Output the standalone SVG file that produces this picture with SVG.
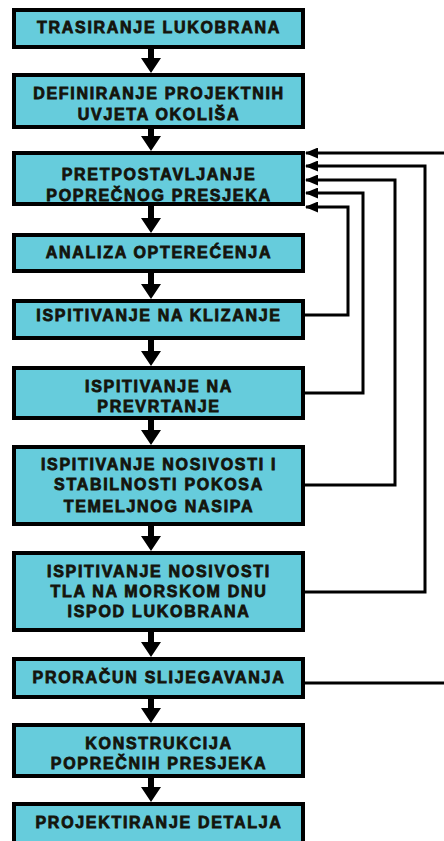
<svg xmlns="http://www.w3.org/2000/svg" width="444" height="841" viewBox="0 0 444 841">
<style>
.box{fill:#66CCDC;stroke:#000;stroke-width:4}
.t{font-family:"Liberation Sans",Arial,sans-serif;font-weight:bold;font-size:16px;letter-spacing:1.7px;fill:#14140c;stroke:#14140c;stroke-width:0.8;text-anchor:middle}
.sh{stroke:#000;stroke-width:6;fill:none}
.hd{fill:#000}
.fb{stroke:#000;stroke-width:3;fill:none;stroke-linejoin:miter}
</style>
<defs>
<marker id="ah" markerUnits="userSpaceOnUse" markerWidth="13" markerHeight="11" refX="12" refY="5.5" orient="auto">
<path d="M0,0 L13,5.5 L0,11 Z" fill="#000"/>
</marker>
</defs>
<rect width="444" height="841" fill="#fff"/>
<g id="connectors">
<path class="sh" d="M151,49V60M151,129V138M151,206V220M151,273V286M151,340V353M151,420V432M151,526V538M151,632V644M151,699V710M151,778V789"/>
<path class="hd" d="M141,58H161L151,73ZM141,136H161L151,151ZM141,218H161L151,233ZM141,284H161L151,299ZM141,351H161L151,366ZM141,430H161L151,445ZM141,536H161L151,551ZM141,642H161L151,657ZM141,708H161L151,723ZM141,787H161L151,802Z"/>
<path class="fb" d="M305,315H348V207H306" marker-end="url(#ah)"/>
<path class="fb" d="M305,393H363V193H306" marker-end="url(#ah)"/>
<path class="fb" d="M305,485H395V180H306" marker-end="url(#ah)"/>
<path class="fb" d="M305,592H425V166H306" marker-end="url(#ah)"/>
<path class="fb" d="M305,683H444"/>
<path class="fb" d="M444,153H306" marker-end="url(#ah)"/>
</g>
<g id="n1"><rect class="box" x="14" y="10" width="289" height="37"/><text class="t" x="159" y="33">TRASIRANJE LUKOBRANA</text></g>
<g id="n2"><rect class="box" x="14" y="75" width="289" height="52"/><text class="t" x="159" y="99">DEFINIRANJE PROJEKTNIH</text><text class="t" x="159" y="120">UVJETA OKOLIŠA</text></g>
<g id="n3"><rect class="box" x="14" y="153" width="289" height="51"/><text class="t" x="159" y="180">PRETPOSTAVLJANJE</text><text class="t" x="159" y="201">POPREČNOG PRESJEKA</text></g>
<g id="n4"><rect class="box" x="14" y="235" width="289" height="36"/><text class="t" x="159" y="258">ANALIZA OPTEREĆENJA</text></g>
<g id="n5"><rect class="box" x="14" y="301" width="289" height="37"/><text class="t" x="159" y="321">ISPITIVANJE NA KLIZANJE</text></g>
<g id="n6"><rect class="box" x="14" y="368" width="289" height="50"/><text class="t" x="159" y="392">ISPITIVANJE NA</text><text class="t" x="159" y="412">PREVRTANJE</text></g>
<g id="n7"><rect class="box" x="14" y="447" width="289" height="77"/><text class="t" x="159" y="470">ISPITIVANJE NOSIVOSTI I</text><text class="t" x="159" y="490">STABILNOSTI POKOSA</text><text class="t" x="159" y="512">TEMELJNOG NASIPA</text></g>
<g id="n8"><rect class="box" x="14" y="553" width="289" height="77"/><text class="t" x="159" y="577">ISPITIVANJE NOSIVOSTI</text><text class="t" x="159" y="597">TLA NA MORSKOM DNU</text><text class="t" x="159" y="617">ISPOD LUKOBRANA</text></g>
<g id="n9"><rect class="box" x="14" y="659" width="289" height="38"/><text class="t" x="159" y="683">PRORAČUN SLIJEGAVANJA</text></g>
<g id="n10"><rect class="box" x="14" y="725" width="289" height="51"/><text class="t" x="159" y="749">KONSTRUKCIJA</text><text class="t" x="159" y="769">POPREČNIH PRESJEKA</text></g>
<g id="n11"><rect class="box" x="14" y="804" width="289" height="50"/><text class="t" x="159" y="828">PROJEKTIRANJE DETALJA</text></g>
</svg>
